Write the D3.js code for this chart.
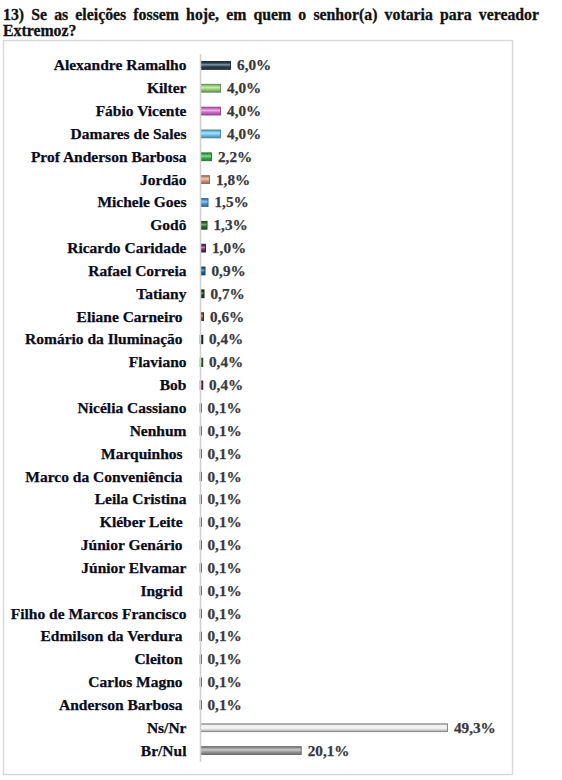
<!DOCTYPE html>
<html>
<head>
<meta charset="utf-8">
<script src="https://cdn.jsdelivr.net/npm/d3@7"></script>
<style>
  body { margin: 0; background: #fff; }
  svg text { font-family: "Liberation Serif", "Times New Roman", serif; font-weight: bold; }
</style>
</head>
<body>
<div id="viscontainer"></div>
<script>
const titleLine1 = "13) Se as eleições fossem hoje, em quem o senhor(a) votaria para vereador";
const titleLine2 = "Extremoz?";

// some of the source labels carry a trailing space
const categories = [
  "Alexandre Ramalho", "Kilter", "Fábio Vicente", "Damares de Sales",
  "Prof Anderson Barbosa", "Jordão", "Michele Goes", "Godô",
  "Ricardo Caridade", "Rafael Correia", "Tatiany", "Eliane Carneiro ",
  "Romário da Iluminação ", "Flaviano", "Bob", "Nicélia Cassiano",
  "Nenhum", "Marquinhos ", "Marco da Conveniência ", "Leila Cristina",
  "Kléber Leite ", "Júnior Genário ", "Júnior Elvamar", "Ingrid ",
  "Filho de Marcos Francisco", "Edmilson da Verdura ", "Cleiton ", "Carlos Magno ",
  "Anderson Barbosa ", "Ns/Nr", "Br/Nul"
];

const values = [
  6.0, 4.0, 4.0, 4.0,
  2.2, 1.8, 1.5, 1.3,
  1.0, 0.9, 0.7, 0.6,
  0.4, 0.4, 0.4, 0.1,
  0.1, 0.1, 0.1, 0.1,
  0.1, 0.1, 0.1, 0.1,
  0.1, 0.1, 0.1, 0.1,
  0.1, 49.3, 20.1
];

const barColors = [
  "#2b4556", "#9bd47a", "#d66fd0", "#6cc6ee",
  "#37b34a", "#d69c7c", "#4a98d8", "#2f6b2f",
  "#6b2c6b", "#1f5f8f", "#1f3f1f", "#8f3f10",
  "#1f2f3f", "#3f6f2f", "#6f2f5f", "#222222",
  "#222222", "#222222", "#222222", "#222222",
  "#222222", "#222222", "#222222", "#222222",
  "#222222", "#222222", "#222222", "#222222",
  "#222222", "#eeeeee", "#a0a0a0"
];

const width = 562;
const height = 780;

const rows = categories.map((c, i) => ({ name: c, value: values[i], color: barColors[i], id: i }));

const svg = d3.select("#viscontainer")
  .append("svg")
  .attr("width", width)
  .attr("height", height);

// title, first line justified
const t1 = svg.append("g");
const words = titleLine1.split(" ");
const wordNodes = words.map(w => t1.append("text")
  .attr("y", 20)
  .attr("font-size", 15.8)
  .attr("fill", "#111")
  .attr("stroke", "#111")
  .attr("stroke-width", 0.3)
  .text(w));
const widths = wordNodes.map(n => n.node().getComputedTextLength());
const titleLeft = 3, titleRight = 539;
const gap = (titleRight - titleLeft - d3.sum(widths)) / (words.length - 1);
let cx = titleLeft;
wordNodes.forEach((n, i) => { n.attr("x", cx); cx += widths[i] + gap; });

svg.append("text")
  .attr("x", titleLeft)
  .attr("y", 36)
  .attr("font-size", 15.8)
  .attr("fill", "#111")
  .attr("stroke", "#111")
  .attr("stroke-width", 0.3)
  .text(titleLine2);

// chart frame
svg.append("rect")
  .attr("x", 3.5)
  .attr("y", 40.5)
  .attr("width", 509)
  .attr("height", 734)
  .attr("fill", "#fff")
  .attr("stroke", "#d9d9d9")
  .attr("stroke-width", 1.5);

const x0 = 200.5;
const x = d3.scaleLinear().domain([0, 49.3]).range([x0, x0 + 247]);
const y = d3.scaleBand().domain(d3.range(categories.length)).range([54, 762]).paddingInner(0.66).paddingOuter(0.33);

// bevel gradients
const defs = svg.append("defs");
rows.forEach(d => {
  const base = d3.color(d.color);
  const dark = base.darker(1.1).formatHex();
  const light = d3.interpolateRgb(d.color, "#ffffff")(0.45);
  const g = defs.append("linearGradient")
    .attr("id", "g" + d.id)
    .attr("x1", 0).attr("y1", 0).attr("x2", 0).attr("y2", 1);
  [[0, dark], [0.2, d.color], [0.42, light], [0.62, d.color], [1, dark]].forEach(([o, c]) =>
    g.append("stop").attr("offset", o).attr("stop-color", c));
  d.dark = d.id === 29 ? "#8a8a8a" : dark;
});

svg.append("g")
  .selectAll("rect")
  .data(rows)
  .join("rect")
  .attr("x", x(0))
  .attr("y", d => y(d.id))
  .attr("width", d => x(d.value) - x(0))
  .attr("height", y.bandwidth())
  .attr("fill", d => `url(#g${d.id})`)
  .attr("stroke", d => d.dark)
  .attr("stroke-width", d => d.value < 0.5 ? 1.5 : 1);

// axis line
svg.append("line")
  .attr("x1", x0).attr("x2", x0)
  .attr("y1", 54).attr("y2", 762)
  .attr("stroke", "#cfcfcf")
  .attr("stroke-width", 1.5);

// category labels
svg.append("g")
  .selectAll("text")
  .data(rows)
  .join("text")
  .attr("x", 186.5)
  .attr("y", d => y(d.id) + y.bandwidth() / 2 + 5)
  .attr("text-anchor", "end")
  .attr("font-size", 15.5)
  .attr("fill", "#0b0b1a")
  .attr("stroke", "#0b0b1a")
  .attr("stroke-width", 0.25)
  .style("white-space", "pre")
  .text(d => d.name);

// value labels
const fmt = v => d3.format(".1f")(v).replace(".", ",") + "%";
svg.append("g")
  .selectAll("text")
  .data(rows)
  .join("text")
  .attr("x", d => x(d.value) + 6.5)
  .attr("y", d => y(d.id) + y.bandwidth() / 2 + 5)
  .attr("font-size", 15.2)
  .attr("fill", "#38383e")
  .attr("stroke", "#38383e")
  .attr("stroke-width", 0.25)
  .text(d => fmt(d.value));
</script>
</body>
</html>
